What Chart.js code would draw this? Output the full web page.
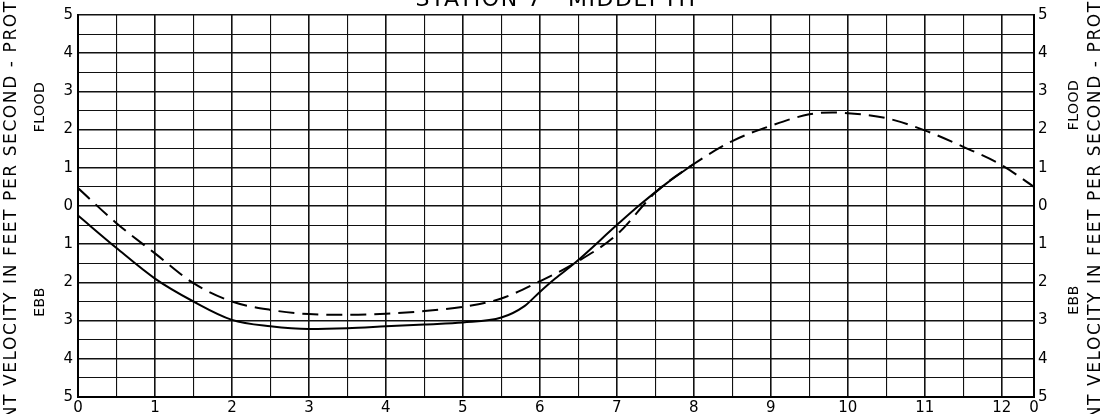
<!DOCTYPE html>
<html>
<head>
<meta charset="utf-8">
<script src="https://cdn.jsdelivr.net/npm/chart.js@4"></script>
<style>
  html, body { margin: 0; padding: 0; background: #fff; }
  #wrap { width: 1107px; height: 414px; }
</style>
</head>
<body>
<div id="wrap"><canvas id="grafico" width="1107" height="414"></canvas></div>
<script>
'use strict';

// ── Testi ─────────────────────────────────────────────
const titolo = 'STATION 7   MIDDEPTH';
const etichettaAsse = 'CURRENT VELOCITY IN FEET PER SECOND - PROTOTYPE';
const etichettaFlood = 'FLOOD';
const etichettaEbb = 'EBB';

// ── Assi ──────────────────────────────────────────────
const oreTick = [0, 1, 2, 3, 4, 5, 6, 7, 8, 9, 10, 11, 12];
const oraFine = 12.42;          // bordo destro, nuovo ciclo
const etichettaFine = '0';
const velMin = -5;
const velMax = 5;

// ── Serie (ore, velocità; negativo = ebb) ─────────────
const oreContinua = [0, 0.5, 1, 1.5, 2, 2.5, 3, 3.5, 4, 4.5, 5, 5.5, 5.8, 6, 6.2, 6.45, 7, 7.3, 7.65, 8];
const velContinua = [-0.25, -1.1, -1.9, -2.5, -2.98, -3.15, -3.22, -3.2, -3.15, -3.1, -3.05, -2.92, -2.62, -2.25, -1.9, -1.5, -0.5, 0.03, 0.6, 1.1];

const oreTratteggio = [0, 0.5, 1, 1.5, 2, 2.5, 3, 3.5, 4, 4.5, 5, 5.5, 6, 6.45, 7, 7.5, 8, 8.5, 9, 9.5, 9.8, 10, 10.5, 11, 11.5, 12, 12.42];
const velTratteggio = [0.47, -0.45, -1.24, -2.02, -2.5, -2.72, -2.83, -2.85, -2.82, -2.75, -2.64, -2.42, -1.97, -1.5, -0.75, 0.35, 1.1, 1.7, 2.1, 2.4, 2.45, 2.43, 2.3, 1.98, 1.55, 1.07, 0.5];

const FONT = '"DejaVu Sans", sans-serif';

function punti(xs, ys) {
  return xs.map((x, i) => ({ x: x, y: ys[i] }));
}

function spessoreGriglia(c) {
  return c.tick && Number.isInteger(c.tick.value) ? 1.6 : 1.1;
}

// testo ruotato di -90°, letto dal basso verso l'alto
function testoVerticale(ctx, testo, x, y, align) {
  ctx.save();
  ctx.translate(x, y);
  ctx.rotate(-Math.PI / 2);
  ctx.textAlign = align;
  ctx.textBaseline = 'middle';
  ctx.fillText(testo, 0, 0);
  ctx.restore();
}

const pluginTesti = {
  id: 'pluginTesti',
  afterDraw(chart) {
    const ctx = chart.ctx;
    const area = chart.chartArea;
    ctx.save();
    ctx.fillStyle = '#000';

    // titolo (tagliato in alto come nell'originale)
    ctx.font = '22px ' + FONT;
    ctx.letterSpacing = '1.5px';
    ctx.textAlign = 'center';
    ctx.textBaseline = 'alphabetic';
    ctx.fillText(titolo, (area.left + area.right) / 2, 6);

    // etichetta lunga, ai due lati
    ctx.font = '17px ' + FONT;
    ctx.letterSpacing = '1.6px';
    const off = ctx.measureText('CURRENT ').width;
    testoVerticale(ctx, etichettaAsse, 12, 386 + off, 'left');
    testoVerticale(ctx, etichettaAsse, 1096, 386 + off, 'left');

    // FLOOD / EBB
    ctx.font = '14px ' + FONT;
    ctx.letterSpacing = '0.5px';
    testoVerticale(ctx, etichettaFlood, 40, 107, 'center');
    testoVerticale(ctx, etichettaEbb, 40, 302, 'center');
    testoVerticale(ctx, etichettaFlood, 1074, 105, 'center');
    testoVerticale(ctx, etichettaEbb, 1074, 300, 'center');

    ctx.restore();
  }
};

function disegnaGrafico() {
  const ctx = document.getElementById('grafico').getContext('2d');

  new Chart(ctx, {
    type: 'scatter',
    data: {
      datasets: [
        {
          label: 'continua',
          data: punti(oreContinua, velContinua),
          showLine: true,
          borderColor: '#000',
          borderWidth: 2,
          pointRadius: 0,
          cubicInterpolationMode: 'monotone',
          yAxisID: 'y'
        },
        {
          label: 'tratteggio',
          data: punti(oreTratteggio, velTratteggio),
          showLine: true,
          borderColor: '#000',
          borderWidth: 2,
          borderDash: [16, 8],
          pointRadius: 0,
          cubicInterpolationMode: 'monotone',
          yAxisID: 'y'
        }
      ]
    },
    options: {
      responsive: false,
      devicePixelRatio: 1,
      animation: false,
      layout: { padding: { top: 15, left: 0, right: 0, bottom: 0 } },
      plugins: { legend: { display: false }, tooltip: { enabled: false } },
      scales: {
        x: {
          type: 'linear',
          min: 0,
          max: oraFine,
          afterBuildTicks: scale => {
            const t = [];
            for (let v = 0; v <= oreTick[oreTick.length - 1]; v += 0.5) t.push({ value: v });
            t.push({ value: oraFine });
            scale.ticks = t;
          },
          afterFit: scale => { scale.height = 17; },
          ticks: {
            autoSkip: false,
            maxRotation: 0,
            padding: 2,
            color: '#000',
            font: { family: FONT, size: 15 },
            callback: v => {
              if (v === oraFine) return etichettaFine;
              return oreTick.includes(v) ? String(v) : '';
            }
          },
          grid: { color: '#111', lineWidth: spessoreGriglia, drawTicks: false },
          border: { color: '#000', width: 2 }
        },
        y: {
          position: 'left',
          min: velMin,
          max: velMax,
          afterFit: scale => { scale.width = 78; },
          ticks: {
            stepSize: 0.5,
            autoSkip: false,
            padding: 5,
            color: '#000',
            font: { family: FONT, size: 15 },
            callback: v => Number.isInteger(v) ? String(Math.abs(v)) : ''
          },
          grid: { color: '#111', lineWidth: spessoreGriglia, drawTicks: false },
          border: { color: '#000', width: 2 }
        },
        y2: {
          position: 'right',
          min: velMin,
          max: velMax,
          afterFit: scale => { scale.width = 73; },
          ticks: {
            stepSize: 0.5,
            autoSkip: false,
            padding: 4,
            color: '#000',
            font: { family: FONT, size: 15 },
            callback: v => Number.isInteger(v) ? String(Math.abs(v)) : ''
          },
          grid: { display: false, drawTicks: false },
          border: { color: '#000', width: 2 }
        }
      }
    },
    plugins: [pluginTesti]
  });
}

disegnaGrafico();
</script>
</body>
</html>
